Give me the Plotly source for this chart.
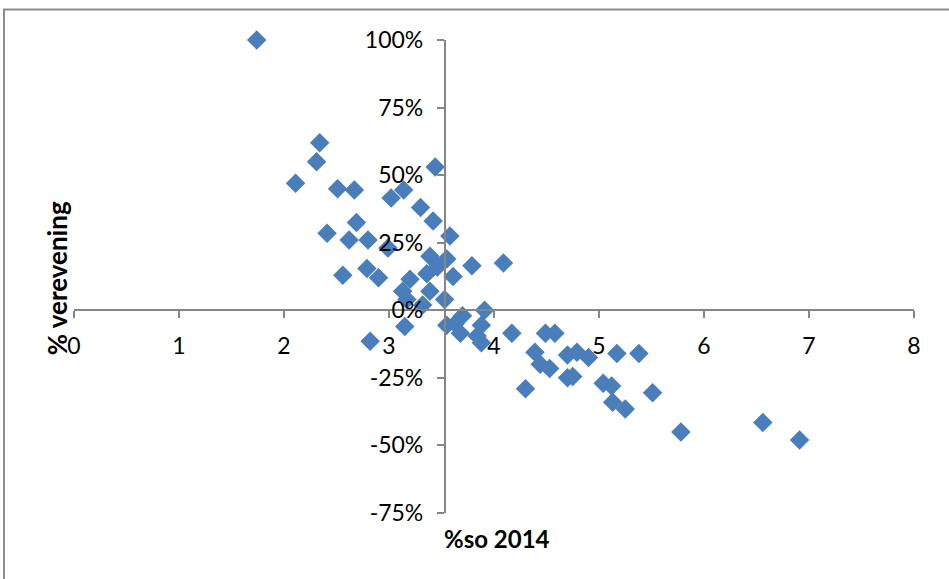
import plotly.graph_objects as go

# %so 2014 (x) and % verevening (y, in %)
so_2014 = [1.74, 2.34, 2.31, 2.11, 2.51, 2.67, 3.02, 3.14, 3.44, 3.30,
           3.42, 3.58, 2.69, 2.41, 2.62, 2.80, 2.99, 2.56, 2.79, 2.90,
           3.39, 3.55, 3.79, 4.09, 3.36, 3.46, 3.61, 3.20, 3.13, 3.39,
           3.17, 3.32, 3.53, 3.15, 2.82, 3.55, 3.70, 3.63, 3.68, 3.91,
           3.88, 3.84, 3.88, 4.17, 4.49, 4.58, 4.39, 4.44, 4.53, 4.30,
           4.70, 4.79, 4.90, 4.70, 4.75, 5.17, 5.38, 5.04, 5.12, 5.13,
           5.25, 5.51, 5.78, 6.56, 6.91]
verevening = [100, 62, 55, 47, 45, 44.5, 41.5, 44.5, 53, 38,
              33, 27.5, 32.5, 28.5, 26, 26, 23, 13, 15.5, 12,
              20, 19, 16.5, 17.5, 13.5, 16, 12.5, 11.5, 7, 7,
              4, 2, 4, -6, -11.5, -5.5, -2, -5, -8.5, 0,
              -5.5, -9.5, -12, -8.5, -8.5, -8.5, -15.5, -20, -21.5, -29,
              -16.5, -15.5, -17.5, -25, -24.5, -16, -16, -27, -28, -34,
              -36.5, -30.5, -45, -41.5, -48]

x_ticks = [0, 1, 2, 3, 4, 5, 6, 7, 8]
y_ticks = [-75, -50, -25, 0, 25, 50, 75, 100]
y_tick_labels = [f"{v}%" for v in y_ticks]
y_axis_cross_x = 3.53

x_range = [0, 8]
y_range = [-75, 100]

W, H = 949, 579
ml, mr, mt, mb = 74, 35, 39.6, 66.2
plot_w = W - ml - mr
plot_h = H - mt - mb

axis_color = "#868686"
tick_font = dict(family="Lato, sans-serif", size=23, color="#000000")

fig = go.Figure()
fig.add_trace(go.Scatter(
    x=so_2014, y=verevening, mode="markers",
    marker=dict(symbol="diamond", size=15, color="#4a7ebb",
                line=dict(width=0)),
    cliponaxis=False, showlegend=False,
))

fig.update_layout(
    width=W, height=H,
    margin=dict(l=ml, r=mr, t=mt, b=mb, autoexpand=False),
    paper_bgcolor="white", plot_bgcolor="white",
    xaxis=dict(
        range=x_range, tickvals=x_ticks, ticktext=[str(v) for v in x_ticks],
        showgrid=False, zeroline=False, showline=True,
        linecolor=axis_color, linewidth=1.5,
        ticks="outside", ticklen=7, tickcolor=axis_color, tickwidth=1.5,
        tickfont=tick_font, anchor="free", automargin=False,
        position=(0 - y_range[0]) / (y_range[1] - y_range[0]),
        ticklabelstandoff=8,
    ),
    yaxis=dict(
        range=y_range, tickvals=y_ticks, ticktext=y_tick_labels,
        showgrid=False, zeroline=False, showline=True,
        linecolor=axis_color, linewidth=1.5,
        ticks="outside", ticklen=7, tickcolor=axis_color, tickwidth=1.5,
        tickfont=tick_font, anchor="free", automargin=False,
        position=(y_axis_cross_x - x_range[0]) / (x_range[1] - x_range[0]),
        ticklabelstandoff=9,
    ),
    annotations=[
        dict(text="<b>% verevening</b>", textangle=-90,
             xref="paper", yref="paper",
             x=(57 - ml) / plot_w, y=(H - mb - 278) / plot_h,
             xanchor="center", yanchor="middle", showarrow=False,
             font=dict(family="Lato, sans-serif", size=26, color="#000000")),
        dict(text="<b>%so 2014</b>",
             xref="paper", yref="paper",
             x=(442 - ml) / plot_w, y=(H - mb - 538) / plot_h,
             xanchor="left", yanchor="middle", showarrow=False,
             font=dict(family="Lato, sans-serif", size=24, color="#000000")),
    ],
    shapes=[
        dict(type="rect", xref="paper", yref="paper",
             x0=(4 - ml) / plot_w, x1=1.5,
             y0=-1.0, y1=(H - mb - 9) / plot_h,
             line=dict(color="#8c8c8c", width=2), layer="below"),
    ],
)

fig.write_html("out.html",
               config={"displayModeBar": False},
               post_script="document.body.style.margin='0';")
